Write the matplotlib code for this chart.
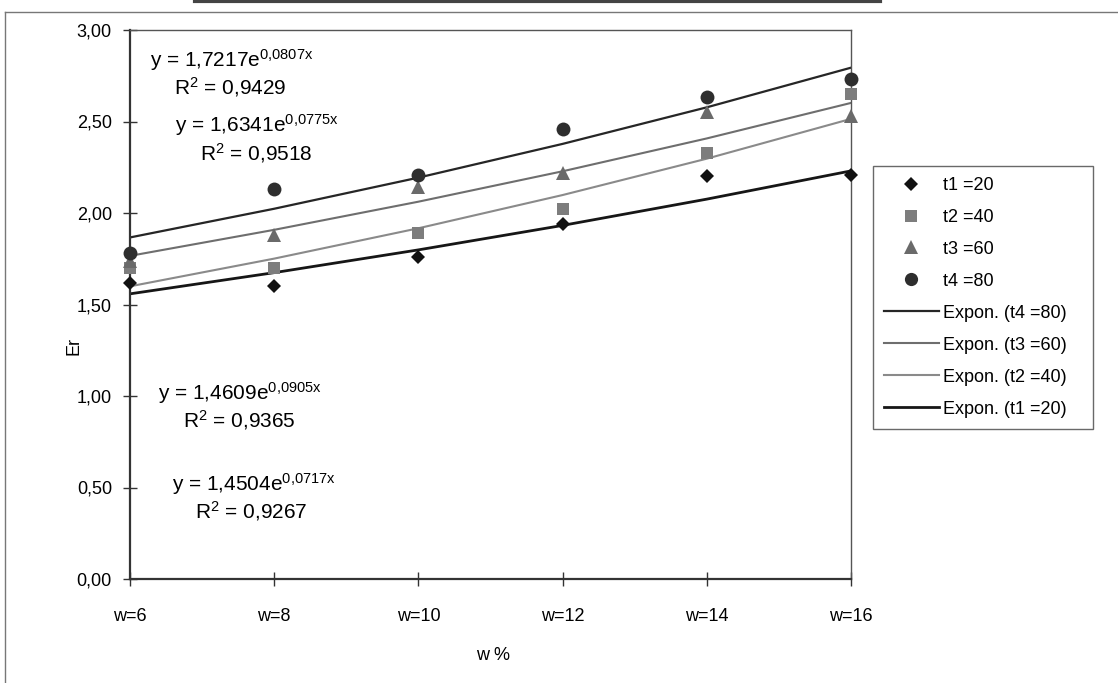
import numpy as np
import matplotlib
matplotlib.use("Agg")
import matplotlib.pyplot as plt
from matplotlib.lines import Line2D

plt.rcParams['font.family'] = ['Liberation Sans', 'DejaVu Sans']
plt.rcParams['mathtext.fontset'] = 'custom'
plt.rcParams['mathtext.rm'] = 'Liberation Sans'
plt.rcParams['mathtext.it'] = 'Liberation Sans'

# ---------------- data ----------------
categories = ['w=6', 'w=8', 'w=10', 'w=12', 'w=14', 'w=16']
t1 = [1.62, 1.60, 1.76, 1.94, 2.20, 2.21]
t2 = [1.70, 1.70, 1.89, 2.02, 2.33, 2.65]
t3 = [1.74, 1.88, 2.14, 2.22, 2.55, 2.53]
t4 = [1.78, 2.13, 2.21, 2.46, 2.635, 2.73]
series_names = ['t1 =20', 't2 =40', 't3 =60', 't4 =80']
# exponential trendline coefficients (a, b) for y = a*e^(b*x), x = 1..6
fit_a = [1.4504, 1.4609, 1.6341, 1.7217]
fit_b = [0.0717, 0.0905, 0.0775, 0.0807]
fit_r2 = ['0,9267', '0,9365', '0,9518', '0,9429']
fit_a_txt = ['1,4504', '1,4609', '1,6341', '1,7217']
fit_b_txt = ['0{,}0717x', '0{,}0905x', '0{,}0775x', '0{,}0807x']
yticks = [0.0, 0.5, 1.0, 1.5, 2.0, 2.5, 3.0]
ytick_labels = ['0,00', '0,50', '1,00', '1,50', '2,00', '2,50', '3,00']

# ---------------- figure ----------------
W, H = 1118, 683
fig = plt.figure(figsize=(W / 100, H / 100), dpi=100)
fig.patch.set_facecolor('white')

def px_to_fig(x, y):
    return x / W, 1 - y / H

L, R, T, B = 130, 851, 30, 579
ax = fig.add_axes([L / W, 1 - B / H, (R - L) / W, (B - T) / H])

xpos = np.arange(1, len(categories) + 1)
all_series = [t1, t2, t3, t4]
markers = ['D', 's', '^', 'o']
mcolors = ['#111111', '#7d7d7d', '#6a6a6a', '#2e2e2e']
msizes = [7.5, 9, 10, 10]
line_colors = ['#161616', '#8a8a8a', '#6e6e6e', '#262626']
line_widths = [2.0, 1.5, 1.5, 1.6]

trend_handles = []
for i in range(4):
    yfit = fit_a[i] * np.exp(fit_b[i] * xpos)
    ln, = ax.plot(xpos, yfit, color=line_colors[i], lw=line_widths[i], zorder=2)
    trend_handles.append(ln)

marker_handles = []
for i in range(4):
    h, = ax.plot(xpos, all_series[i], linestyle='none', marker=markers[i],
                 color=mcolors[i], markersize=msizes[i], markeredgewidth=0,
                 zorder=3 + i, clip_on=False)
    marker_handles.append(h)

ax.set_xlim(1, 6)
ax.set_ylim(0, 3)
ax.set_xticks(xpos)
ax.set_xticklabels(categories, fontsize=13)
ax.set_yticks(yticks)
ax.set_yticklabels(ytick_labels, fontsize=13)
ax.tick_params(axis='both', direction='inout', length=10, width=1.0, color='#333333')
ax.tick_params(axis='x', pad=16)
ax.tick_params(axis='y', pad=8)
for side in ['top', 'right']:
    ax.spines[side].set_color('#555555')
    ax.spines[side].set_linewidth(1.0)
for side in ['left', 'bottom']:
    ax.spines[side].set_color('#333333')
    ax.spines[side].set_linewidth(1.6)

ax.set_xlabel('w %', fontsize=13)
ax.set_ylabel('Er', fontsize=13)
ax.xaxis.set_label_coords((493 - L) / (R - L), (B - 647) / (B - T))
ax.yaxis.set_label_coords((82 - L) / (R - L), (B - 346) / (B - T))

# trendline equations (positions in pixel space of the figure)
eq_pos = [  # (x_eq, y_eq, x_r2, y_r2) for t1..t4
    (172, 484, 195, 511),
    (158, 393, 183, 420),
    (175, 125, 200, 153),
    (150, 60, 174, 87),
]
for i in range(4):
    xe, ye, xr, yr = eq_pos[i]
    fx, fy = px_to_fig(xe, ye)
    fig.text(fx, fy, 'y = ' + fit_a_txt[i] + r'e$^{\mathregular{' + fit_b_txt[i] + '}}$',
             fontsize=15, ha='left', va='center')
    fx, fy = px_to_fig(xr, yr)
    fig.text(fx, fy, r'R$^{\mathregular{2}}$ = ' + fit_r2[i],
             fontsize=15, ha='left', va='center')

# legend
handles = marker_handles + [trend_handles[3], trend_handles[2], trend_handles[1], trend_handles[0]]
labels = series_names + ['Expon. (t4 =80)', 'Expon. (t3 =60)', 'Expon. (t2 =40)', 'Expon. (t1 =20)']
lx0, ly0 = px_to_fig(873, 423)
lx1, ly1 = px_to_fig(1093, 166)
leg = fig.legend(handles, labels, loc='upper left',
                 bbox_to_anchor=(lx0, ly0, lx1 - lx0, ly1 - ly0),
                 bbox_transform=fig.transFigure,
                 mode='expand', fontsize=13, frameon=True, fancybox=False,
                 edgecolor='#444444', handlelength=3.05, handletextpad=0.2,
                 labelspacing=0.83, borderpad=0.6, borderaxespad=0.0,
                 markerscale=0.95)
leg.get_frame().set_linewidth(1.0)

# outer chart frame
fig.add_artist(Line2D([5 / W, 1.0], [1 - 12 / H, 1 - 12 / H], color='#777777', lw=1.0))
fig.add_artist(Line2D([5 / W, 5 / W], [0.0, 1 - 12 / H], color='#777777', lw=1.0))
fig.add_artist(Line2D([195 / W, 880 / W], [1 - 1 / H, 1 - 1 / H], color='#444444', lw=3.0))

fig.savefig('out.png', dpi=100, facecolor='white')
